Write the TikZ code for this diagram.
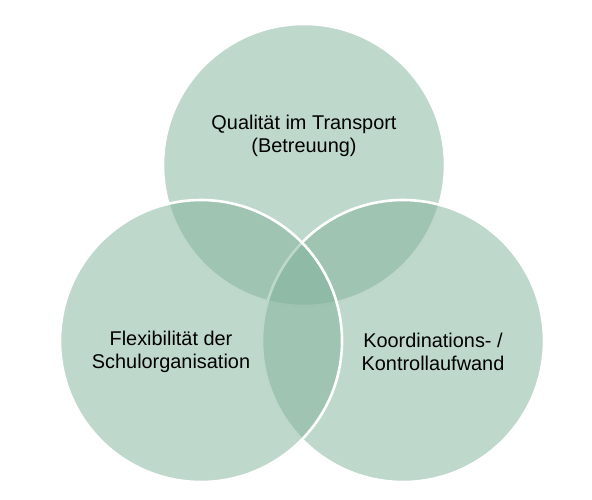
\documentclass[tikz,border=0pt]{standalone}
\usepackage{fontspec}
\setmainfont{Liberation Sans}
\usepackage{xcolor}
\definecolor{venngreen}{RGB}{127,177,153}

\begin{document}
\begin{tikzpicture}[x=1pt, y=-1pt,
    venn/.style={draw=white, line width=2.6pt, circle, fill=venngreen, fill opacity=0.5, draw opacity=1, minimum size=282pt, inner sep=0pt},
    label/.style={align=center, text=black, font=\fontsize{19.9}{22.5}\selectfont}]
    \useasboundingbox (0,0) rectangle (592,499);
    % Circles
    \node [venn] (quality) at (304,165) {};
    \node [venn] (effort) at (403,341) {};
    \node [venn] (flex) at (201,341) {};

    % Labels
    \node [label] (qualitytext) at (304,136) {Qualität im Transport\\(Betreuung)};
    \node [label] (flextext) at (171,352) {Flexibilität der\\Schulorganisation};
    \node [label] (efforttext) at (433,352) {Koordinations- /\\Kontrollaufwand};
\end{tikzpicture}
\end{document}
